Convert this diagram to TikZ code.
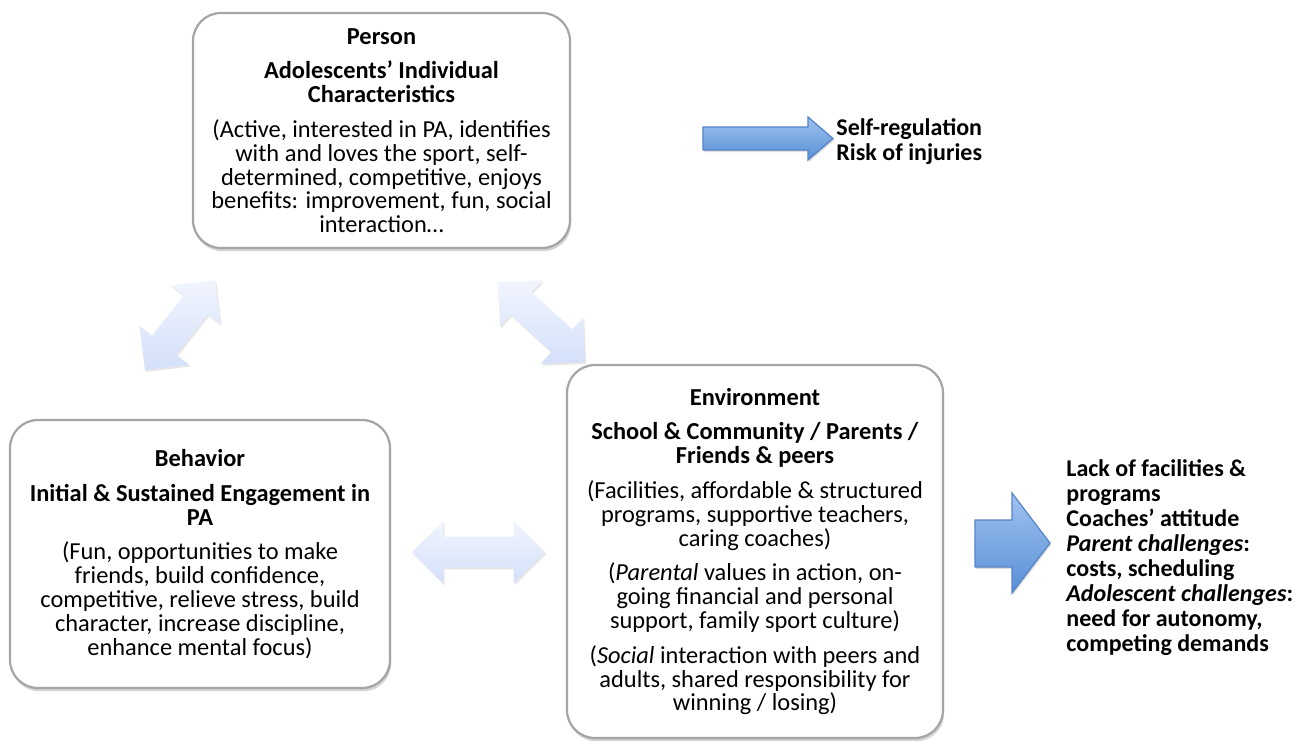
\documentclass[tikz,border=0pt]{standalone}
\usepackage{fontspec}
\setmainfont{Carlito}
\usetikzlibrary{shapes.arrows,shadows}
\definecolor{boxline}{RGB}{165,165,165}
\definecolor{arrowtop}{RGB}{160,195,240}
\definecolor{arrowbot}{RGB}{88,142,214}
\definecolor{arrowline}{RGB}{84,132,200}
\definecolor{pairtop}{RGB}{241,245,254}
\definecolor{pairbot}{RGB}{212,224,250}
\newcommand{\boxfont}{\fontsize{12.2}{11.9}\selectfont\lineskiplimit-6pt\relax}
\newcommand{\outfont}{\fontsize{12}{12.5}\selectfont\bfseries\lineskiplimit-6pt\relax}
\begin{document}
\begin{tikzpicture}[x=0.5pt,y=-0.5pt,
	box/.style={draw=boxline, line width=1.1pt, rounded corners=14pt, fill=white, align=center,
		font=\boxfont, inner sep=0pt,
		drop shadow={shadow xshift=0.6pt, shadow yshift=-1.6pt, opacity=0.35}},
	bluearrow/.style={draw=arrowline, line width=0.6pt, line join=miter, top color=arrowtop, bottom color=arrowbot,
		drop shadow={shadow xshift=0.6pt, shadow yshift=-1pt, opacity=0.25}},
	pairarrow/.style={double arrow, top color=pairtop, bottom color=pairbot, inner xsep=0pt, inner ysep=7.5pt,
		double arrow tip angle=90, double arrow head extend=8pt,
		drop shadow={shadow xshift=0.6pt, shadow yshift=-1pt, opacity=0.2}},
	outcome/.style={align=left, inner sep=0pt, font=\outfont}]
	\useasboundingbox (0,0) rectangle (1299,751);
	%\draw [step=50,lightgray, very thin] (0,0) grid (1299,751);

	% the three boxes
	\node[box, minimum width=188.5pt, minimum height=117.5pt] (person) at (381.5,130.5) {%
		\textbf{Person}\\[5.5pt]
		\textbf{Adolescents’ Individual}\\
		\textbf{Characteristics}\\[5.5pt]
		(Active, interested in PA, identifies\\
		with and loves the sport, self-\\
		determined, competitive, enjoys\\
		benefits: improvement, fun, social\\
		interaction…};
	\node[box, minimum width=190pt, minimum height=134pt] (behavior) at (200,554) {%
		\textbf{Behavior}\\[5.5pt]
		\textbf{Initial \& Sustained Engagement in}\\
		\textbf{PA}\\[5.5pt]
		(Fun, opportunities to make\\
		friends, build confidence,\\
		competitive, relieve stress, build\\
		character, increase discipline,\\
		enhance mental focus)};
	\node[box, minimum width=188pt, minimum height=186.5pt] (environment) at (755,551.5) {%
		\textbf{Environment}\\[5.5pt]
		\textbf{School \& Community / Parents /}\\
		\textbf{Friends \& peers}\\[5.5pt]
		(Facilities, affordable \& structured\\
		programs, supportive teachers,\\
		caring coaches)\\[5.5pt]
		(\textit{Parental} values in action, on-\\
		going financial and personal\\
		support, family sport culture)\\[5.5pt]
		(\textit{Social} interaction with peers and\\
		adults, shared responsibility for\\
		winning / losing)};

	% two-way arrows between the boxes
	\node[pairarrow, rotate=52, minimum height=57pt, minimum width=31pt] (pb) at (180,325) {};
	\node[pairarrow, rotate=-42.6, minimum height=59pt, minimum width=31pt] (pe) at (541.5,322) {};
	\node[pairarrow, minimum height=66.5pt, minimum width=31pt] (be) at (478.5,552) {};

	% outcomes
	\path[bluearrow] (703,127) -- (808,127) -- (808,117) -- (833,138.5) -- (808,160) -- (808,150) -- (703,150) -- cycle;
	\node[outcome, anchor=west] (selfreg) at (836,141.5) {Self-regulation\\Risk of injuries};
	\path[bluearrow] (975,520) -- (1012,520) -- (1012,493) -- (1050,543) -- (1012,593) -- (1012,567) -- (975,567) -- cycle;
	\node[outcome, anchor=west] (barriers) at (1066,558) {%
		Lack of facilities \&\\
		programs\\
		Coaches’ attitude\\
		\textit{Parent challenges}:\\
		costs, scheduling\\
		\textit{Adolescent challenges}:\\
		need for autonomy,\\
		competing demands};
\end{tikzpicture}
\end{document}
